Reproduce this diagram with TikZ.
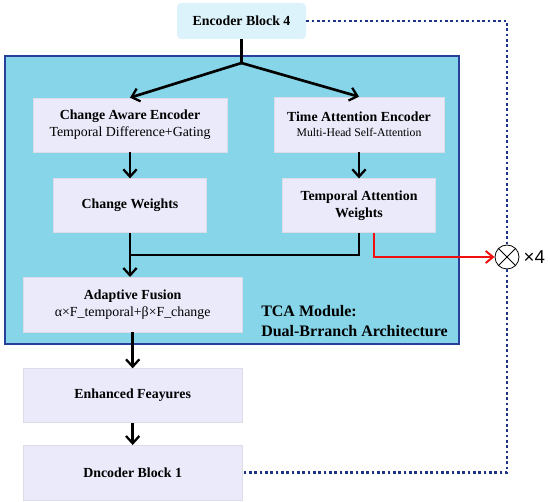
\documentclass[tikz,border=0pt]{standalone}
\usepackage{fontspec}
\setmainfont{Liberation Serif}
\newfontfamily\labelsans{Liberation Sans}
\usepackage{tikz}
\usetikzlibrary{arrows.meta,positioning,calc}
\definecolor{moduleblue}{HTML}{86D5E8}
\definecolor{moduleedge}{HTML}{27409A}
\definecolor{blocklav}{HTML}{EAEAFA}
\definecolor{blockedge}{HTML}{DCDCE8}
\definecolor{encoderpale}{HTML}{DDF3FC}
\definecolor{skipnavy}{HTML}{1E3586}
\definecolor{gatered}{HTML}{F01010}

\begin{document}
\begin{tikzpicture}[
    x=0.75pt, y=-0.75pt,
    font=\fontsize{10.4}{12.5}\selectfont,
    block/.style={draw=blockedge, line width=0.5pt, fill=blocklav, align=center, inner sep=2pt},
    flow/.style={-{Straight Barb[length=5.5pt,width=10pt,line width=1.7pt]}, line width=2pt, draw=black},
    merge/.style={line width=2pt, draw=black},
    gate/.style={-{Straight Barb[length=5.5pt,width=9pt,line width=1.5pt]}, line width=1.6pt, draw=gatered},
    skip/.style={draw=skipnavy, line width=2pt, dash pattern=on 2pt off 2pt}
]
\useasboundingbox (0,0) rectangle (550,502);

% TCA module frame
\draw[draw=moduleedge, line width=0.8pt, fill=moduleblue] (5,56) rectangle (459,344);

\node[block, fill=encoderpale, draw=none, rounded corners=3pt, minimum width=96.75pt, minimum height=27pt] (enc4) at (241.5,21) {\bfseries Encoder Block 4};
\coordinate (split) at (241.5,63);

% change branch
\node[block, minimum width=145.5pt, minimum height=40.5pt] (cae) at (130,125) {\bfseries Change Aware Encoder\\Temporal Difference+Gating};
\node[block, below=19.5pt of cae, minimum width=114.75pt, minimum height=40.5pt] (cw) {\bfseries Change Weights};

% temporal branch
\node[block, minimum width=127.5pt, minimum height=41.25pt] (tae) at (359,124.5) {\bfseries Time Attention Encoder\\[-1pt]{\fontsize{8.8}{10}\selectfont Multi-Head Self-Attention}};
\node[block, below=19.5pt of tae, minimum width=114.75pt, minimum height=40.5pt] (taw) {\bfseries Temporal Attention\\\bfseries Weights};

% fusion and decoder side
\node[block, below=33pt of cw, xshift=2pt, minimum width=164.25pt, minimum height=41pt] (fus) {\bfseries Adaptive Fusion\\α×F\_temporal+β×F\_change};
\node[block, below=27pt of fus, minimum width=164.25pt, minimum height=40.5pt] (enh) {\bfseries Enhanced Feayures};
\node[block, below=16.5pt of enh, minimum width=164.25pt, minimum height=41pt] (dec) {\bfseries Dncoder Block 1};
\coordinate (join) at (cw.south |- 0,255);

\node[anchor=west, align=left, inner sep=0pt, font=\fontsize{12}{15}\selectfont\bfseries] (tcalab) at (261,321.5) {TCA Module:\\Dual-Brranch Architecture};

% multiplication gate
\node[circle, draw=black, line width=0.6pt, fill=white, minimum size=18pt, inner sep=0pt] (mul) at (507,257) {};
\draw[line width=0.6pt] (mul.north west) -- (mul.south east) (mul.north east) -- (mul.south west);
\node[right=3pt of mul, inner sep=0pt, font=\labelsans\fontsize{14}{16}\selectfont] (times) {×4};

\draw[merge] (enc4) -- (split);
\draw[flow] (split) -- (cae.north);
\draw[flow] (split) -- (tae.north);
\draw[flow] (cae) -- (cw);
\draw[flow] (tae) -- (taw);
\draw[flow] (cw.south) -- (cw.south |- fus.north);
\draw[merge] (taw.south) |- (join);
\draw[gate] ([xshift=11pt]taw.south) |- (mul.west);
\draw[flow] (fus) -- (enh);
\draw[flow] (enh) -- (dec);

\draw[skip] (enc4.east) -| (mul.north);
\draw[skip] (mul.south) |- (dec.east);
\end{tikzpicture}
\end{document}
